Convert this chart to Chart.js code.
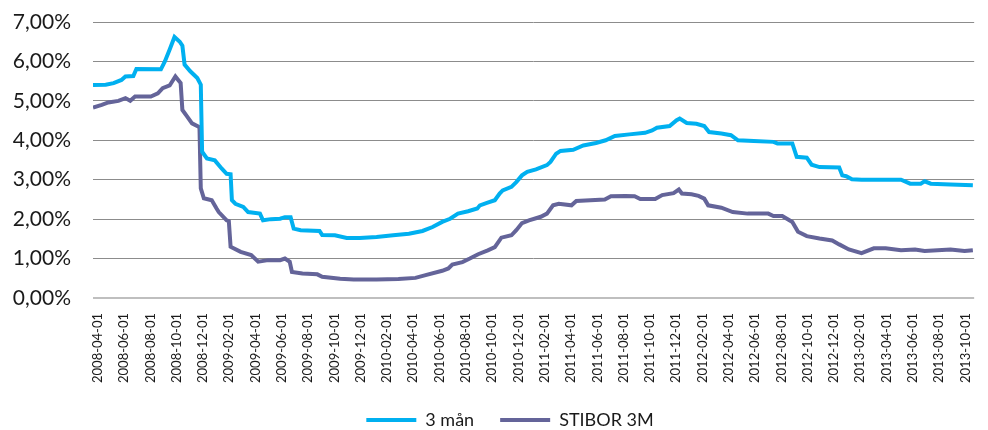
<!DOCTYPE html>
<html>
<head>
<meta charset="utf-8">
<script src="https://cdn.jsdelivr.net/npm/chart.js@4"></script>
<style>
  html, body { margin: 0; padding: 0; background: #fff; }
  #wrap { width: 988px; height: 430px; }
</style>
</head>
<body>
<div id="wrap"><canvas id="chart"></canvas></div>
<script>
const dates3m = [
  "2008-03-20", "2008-04-19", "2008-05-07", "2008-05-25", "2008-06-04", "2008-06-22", "2008-06-29",
  "2008-08-25", "2008-09-04", "2008-09-15", "2008-09-26", "2008-10-08", "2008-10-14", "2008-10-19",
  "2008-11-02", "2008-11-18", "2008-11-26", "2008-11-29", "2008-12-10", "2008-12-28", "2009-01-14",
  "2009-01-25", "2009-02-04", "2009-02-07", "2009-02-15", "2009-03-03", "2009-03-14", "2009-04-11",
  "2009-04-18", "2009-05-06", "2009-05-27", "2009-06-08", "2009-06-21", "2009-06-28", "2009-07-14",
  "2009-08-27", "2009-09-03", "2009-10-02", "2009-10-29", "2009-11-29", "2010-01-07", "2010-02-15",
  "2010-03-21", "2010-04-22", "2010-05-15", "2010-06-07", "2010-06-25", "2010-07-13", "2010-08-06",
  "2010-08-27", "2010-09-03", "2010-09-19", "2010-10-07", "2010-10-18", "2010-10-25", "2010-11-15",
  "2010-11-26", "2010-12-09", "2010-12-21", "2011-01-11", "2011-02-06", "2011-02-14", "2011-02-27",
  "2011-03-07", "2011-04-06", "2011-04-29", "2011-05-28", "2011-06-20", "2011-07-11", "2011-08-14",
  "2011-09-20", "2011-10-06", "2011-10-17", "2011-11-16", "2011-12-02", "2011-12-09", "2011-12-25",
  "2012-01-17", "2012-02-05", "2012-02-16", "2012-03-14", "2012-04-06", "2012-04-22", "2012-05-28",
  "2012-07-13", "2012-07-22", "2012-08-26", "2012-09-06", "2012-09-29", "2012-10-10", "2012-10-28",
  "2012-12-13", "2012-12-20", "2012-12-29", "2013-01-12", "2013-02-04", "2013-05-04", "2013-05-25",
  "2013-06-19", "2013-06-28", "2013-07-12", "2013-08-27", "2013-10-18"
];
const rates3m = [
  5.40, 5.41, 5.45, 5.53, 5.62, 5.63, 5.81,
  5.80, 6.00, 6.30, 6.62, 6.50, 6.40, 5.92,
  5.75, 5.58, 5.41, 3.71, 3.54, 3.49, 3.28,
  3.15, 3.14, 2.48, 2.39, 2.31, 2.18, 2.14,
  1.97, 2.00, 2.01, 2.05, 2.05, 1.76, 1.72,
  1.70, 1.60, 1.59, 1.52, 1.52, 1.55, 1.59,
  1.63, 1.70, 1.80, 1.93, 2.01, 2.14, 2.20,
  2.27, 2.35, 2.41, 2.48, 2.65, 2.73, 2.82,
  2.94, 3.11, 3.20, 3.26, 3.37, 3.45, 3.66,
  3.73, 3.76, 3.87, 3.93, 4.00, 4.11, 4.15,
  4.19, 4.25, 4.32, 4.36, 4.51, 4.55, 4.44,
  4.42, 4.36, 4.21, 4.17, 4.13, 4.00, 3.98,
  3.96, 3.92, 3.92, 3.58, 3.56, 3.38, 3.32,
  3.31, 3.11, 3.09, 3.01, 3.00, 3.00, 2.90,
  2.90, 2.96, 2.90, 2.88, 2.86
];

const datesStibor = [
  "2008-03-20", "2008-04-10", "2008-04-25", "2008-05-18", "2008-06-04", "2008-06-15", "2008-06-26",
  "2008-08-02", "2008-08-18", "2008-08-29", "2008-09-15", "2008-09-28", "2008-10-10", "2008-10-14",
  "2008-10-25", "2008-11-06", "2008-11-20", "2008-11-23", "2008-11-26", "2008-12-03", "2008-12-21",
  "2009-01-02", "2009-01-07", "2009-01-25", "2009-01-30", "2009-02-04", "2009-02-27", "2009-03-21",
  "2009-04-07", "2009-04-30", "2009-05-27", "2009-06-08", "2009-06-19", "2009-06-24", "2009-07-18",
  "2009-08-22", "2009-09-03", "2009-10-14", "2009-11-15", "2010-01-07", "2010-02-27", "2010-04-06",
  "2010-04-29", "2010-06-07", "2010-06-21", "2010-06-30", "2010-07-23", "2010-08-10", "2010-08-29",
  "2010-09-21", "2010-10-07", "2010-10-22", "2010-11-15", "2010-11-26", "2010-12-09", "2010-12-25",
  "2011-01-22", "2011-02-06", "2011-02-20", "2011-03-03", "2011-04-02", "2011-04-13", "2011-05-15",
  "2011-06-18", "2011-07-02", "2011-08-05", "2011-08-26", "2011-09-09", "2011-10-13", "2011-10-29",
  "2011-11-25", "2011-12-07", "2011-12-14", "2012-01-06", "2012-01-22", "2012-02-05", "2012-02-14",
  "2012-03-14", "2012-04-10", "2012-05-14", "2012-07-01", "2012-07-13", "2012-08-03", "2012-08-26",
  "2012-09-09", "2012-09-29", "2012-10-28", "2012-11-27", "2012-12-13", "2013-01-05", "2013-02-04",
  "2013-03-02", "2013-03-29", "2013-05-04", "2013-06-06", "2013-06-28", "2013-08-27", "2013-09-29",
  "2013-10-18"
];
const ratesStibor = [
  4.83, 4.90, 4.96, 5.00, 5.07, 5.00, 5.11,
  5.11, 5.19, 5.32, 5.39, 5.62, 5.45, 4.77,
  4.60, 4.43, 4.35, 4.33, 2.78, 2.53, 2.48,
  2.27, 2.18, 1.97, 1.95, 1.30, 1.17, 1.09,
  0.92, 0.96, 0.96, 1.00, 0.92, 0.66, 0.62,
  0.60, 0.54, 0.49, 0.47, 0.47, 0.48, 0.51,
  0.58, 0.69, 0.75, 0.85, 0.91, 1.00, 1.11,
  1.21, 1.29, 1.53, 1.59, 1.72, 1.90, 1.97,
  2.06, 2.14, 2.35, 2.39, 2.35, 2.46, 2.48,
  2.50, 2.58, 2.59, 2.58, 2.51, 2.51, 2.61,
  2.66, 2.75, 2.65, 2.63, 2.59, 2.52, 2.35,
  2.29, 2.18, 2.14, 2.14, 2.08, 2.08, 1.93,
  1.68, 1.57, 1.51, 1.46, 1.36, 1.23, 1.14,
  1.26, 1.26, 1.21, 1.23, 1.19, 1.23, 1.19,
  1.21
];

const tickLabels = [
  "2008-04-01", "2008-06-01", "2008-08-01", "2008-10-01", "2008-12-01",
  "2009-02-01", "2009-04-01", "2009-06-01", "2009-08-01", "2009-10-01", "2009-12-01",
  "2010-02-01", "2010-04-01", "2010-06-01", "2010-08-01", "2010-10-01", "2010-12-01",
  "2011-02-01", "2011-04-01", "2011-06-01", "2011-08-01", "2011-10-01", "2011-12-01",
  "2012-02-01", "2012-04-01", "2012-06-01", "2012-08-01", "2012-10-01", "2012-12-01",
  "2013-02-01", "2013-04-01", "2013-06-01", "2013-08-01", "2013-10-01"
];

const seriesNames = ["3 mån", "STIBOR 3M"];
const seriesColors = ["#00B0F0", "#646499"];

// months since 2008-04-01, so the x axis can be linear
const monthsOf = s => {
  const [y, m, d] = s.split("-").map(Number);
  return (y - 2008) * 12 + (m - 4) + (d - 1) / 30;
};

const toPoints = (dates, values) =>
  dates.map((d, i) => ({ x: monthsOf(d), y: values[i] }));

// the legend sits a bit right of the canvas centre in the original
const legendShift = {
  id: "legendShift",
  afterLayout: chart => {
    chart.legend.left += 32;
  }
};

Chart.defaults.font.family = "Lato, 'Open Sans', sans-serif";
Chart.defaults.color = "#1a1a1a";

new Chart(document.getElementById("chart"), {
  type: "line",
  plugins: [legendShift],
  data: {
    datasets: [
      { label: seriesNames[0], data: toPoints(dates3m, rates3m), borderColor: seriesColors[0] },
      { label: seriesNames[1], data: toPoints(datesStibor, ratesStibor), borderColor: seriesColors[1] }
    ].map(ds => ({ ...ds, backgroundColor: ds.borderColor, borderWidth: 4, pointRadius: 0, tension: 0 }))
  },
  options: {
    responsive: true,
    maintainAspectRatio: false,
    animation: false,
    layout: { padding: { top: 0, right: 0, bottom: -9, left: 0 } },
    plugins: {
      tooltip: { enabled: false },
      legend: {
        position: "bottom",
        labels: {
          boxWidth: 50,
          boxHeight: 4,
          padding: 26,
          font: { size: 18 },
          generateLabels: chart =>
            Chart.defaults.plugins.legend.labels.generateLabels(chart).map(l => ({
              ...l,
              fillStyle: l.strokeStyle,
              lineWidth: 0
            }))
        }
      }
    },
    scales: {
      x: {
        type: "linear",
        min: monthsOf("2008-03-20"),
        max: monthsOf("2013-10-21"),
        afterBuildTicks: scale => {
          scale.ticks = tickLabels.map(l => ({ value: monthsOf(l) }));
        },
        afterFit: scale => { scale.height = 87; },
        grid: { display: false },
        border: { display: false },
        ticks: {
          autoSkip: false,
          minRotation: 90,
          maxRotation: 90,
          padding: 7,
          font: { size: 13 },
          callback: (value, index) => tickLabels[index]
        }
      },
      y: {
        min: 0,
        max: 7,
        afterFit: scale => {
          scale.width = 93;
          scale.paddingTop = 22;
        },
        border: { display: false },
        grid: {
          drawTicks: false,
          color: ctx => (ctx.tick.value === 0 ? "#bfbfbf" : "#8c8c8c"),
          lineWidth: ctx => (ctx.tick.value === 0 ? 2 : 1)
        },
        ticks: {
          stepSize: 1,
          padding: 22,
          font: { size: 21 },
          callback: v => v.toFixed(2).replace(".", ",") + "%"
        }
      }
    }
  }
});
</script>
</body>
</html>
